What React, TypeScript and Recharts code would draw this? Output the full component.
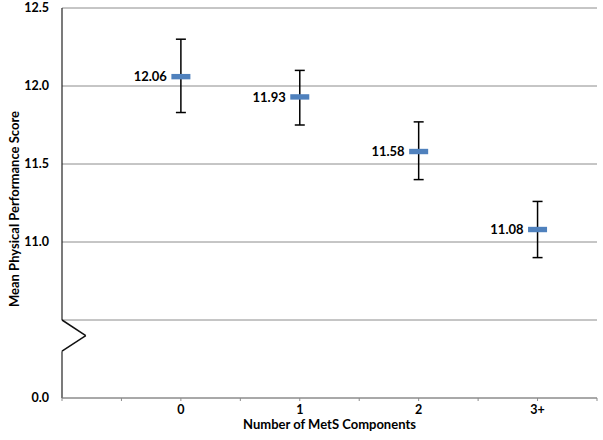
import React from "react";
import {
  ScatterChart,
  Scatter,
  XAxis,
  YAxis,
  CartesianGrid,
  ErrorBar,
  ReferenceLine,
} from "recharts";

const categories = ["0", "1", "2", "3+"];
const means = [12.06, 11.93, 11.58, 11.08];
const lowerCI = [11.83, 11.75, 11.4, 10.9];
const upperCI = [12.3, 12.1, 11.77, 11.26];

const yTicks = [10, 10.5, 11, 11.5, 12, 12.5];
const yTickLabels = ["0.0", "", "11.0", "11.5", "12.0", "12.5"];
const xTicks = [-1, -0.5, 0, 0.5, 1, 1.5, 2, 2.5, 3, 3.5];

const data = categories.map((c, i) => ({
  x: i,
  y: means[i],
  label: means[i].toFixed(2),
  err: [means[i] - lowerCI[i], upperCI[i] - means[i]],
}));

const FONT = "Lato, 'Open Sans', sans-serif";
const GRID = "#8c8c8c";
const MARKER = "#4f81bd";

const MarkerShape = (props: any) => {
  const { cx, cy, payload } = props;
  return (
    <g>
      <rect x={cx - 9.5} y={cy - 2.7} width={19} height={5.4} fill={MARKER} />
      <text
        x={cx - 14}
        y={cy}
        dy="0.36em"
        textAnchor="end"
        fontFamily={FONT}
        fontWeight="bold"
        fontSize={13}
        fill="#000"
      >
        {payload.label}
      </text>
    </g>
  );
};

const EmptyShape = () => <g />;

const YLabel = (props: any) => {
  const vb = props.viewBox;
  const cx = 14;
  const cy = vb.y + vb.height / 2 + 6;
  return (
    <text
      transform={`translate(${cx},${cy}) rotate(-90)`}
      textAnchor="middle"
      dy="0.36em"
      fontFamily={FONT}
      fontWeight="bold"
      fontSize={13}
      fill="#000"
    >
      Mean Physical Performance Score
    </text>
  );
};

const XLabel = (props: any) => {
  const vb = props.viewBox;
  return (
    <text
      x={vb.x + vb.width / 2}
      y={424}
      dy="0.36em"
      textAnchor="middle"
      fontFamily={FONT}
      fontWeight="bold"
      fontSize={13}
      fill="#000"
    >
      Number of MetS Components
    </text>
  );
};

export default function App() {
  return (
    <div style={{ position: "absolute", left: 0, top: 0, width: 603, height: 440, background: "#fff" }}>
      <ScatterChart width={603} height={440} margin={{ top: 8, right: 6, bottom: 0, left: 0 }}>
        <CartesianGrid vertical={false} stroke={GRID} strokeWidth={1} />
        <XAxis
          type="number"
          dataKey="x"
          domain={[-1, 3.5]}
          ticks={xTicks}
          interval={0}
          allowDecimals
          height={42}
          stroke={GRID}
          tickSize={3}
          tickMargin={4}
          tickFormatter={(v: number) =>
            Number.isInteger(v) && v >= 0 ? categories[v] : ""
          }
          tick={{ fontFamily: FONT, fontWeight: "bold", fontSize: 12.5, fill: "#000" }}
          label={<XLabel />}
        />
        <YAxis
          type="number"
          dataKey="y"
          domain={[10, 12.5]}
          ticks={yTicks}
          interval={0}
          width={62}
          axisLine={false}
          tickLine={false}
          tickMargin={7}
          tickFormatter={(v: number) => yTickLabels[yTicks.indexOf(v)] ?? ""}
          tick={{ fontFamily: FONT, fontWeight: "bold", fontSize: 12.5, fill: "#000" }}
          label={<YLabel />}
        />
        <ReferenceLine
          ifOverflow="visible"
          segment={[{ x: -1, y: 12.5 }, { x: -1, y: 10.5 }]}
          stroke="#222"
          strokeWidth={1.2}
        />
        <ReferenceLine
          ifOverflow="visible"
          segment={[{ x: -1, y: 10.5 }, { x: -0.8, y: 10.4 }]}
          stroke="#111"
          strokeWidth={1.5}
        />
        <ReferenceLine
          ifOverflow="visible"
          segment={[{ x: -0.8, y: 10.4 }, { x: -1, y: 10.3 }]}
          stroke="#111"
          strokeWidth={1.5}
        />
        <ReferenceLine
          ifOverflow="visible"
          segment={[{ x: -1, y: 10.3 }, { x: -1, y: 10 }]}
          stroke="#222"
          strokeWidth={1.2}
        />
        <Scatter data={data} shape={<MarkerShape />} isAnimationActive={false} />
        <Scatter data={data} shape={<EmptyShape />} isAnimationActive={false}>
          <ErrorBar dataKey="err" direction="y" width={5} stroke="#000" strokeWidth={1.5} />
        </Scatter>
      </ScatterChart>
    </div>
  );
}
